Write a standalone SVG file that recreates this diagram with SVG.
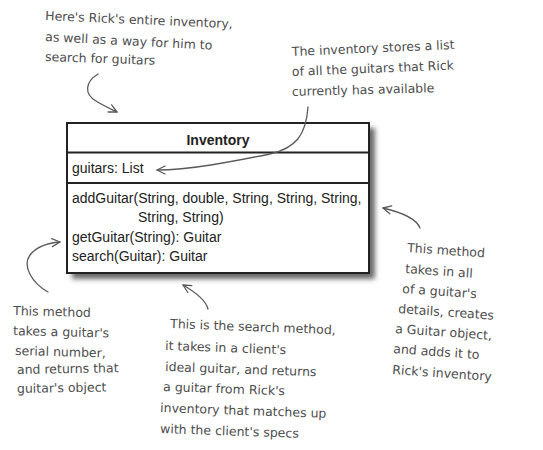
<svg xmlns="http://www.w3.org/2000/svg" width="543" height="450" viewBox="0 0 543 450">
<defs>
<style>
.note{font-family:"DejaVu Sans","Liberation Sans",sans-serif;font-size:12.5px;fill:#4d4d4d}
.uml{font-family:"Liberation Sans",Arial,sans-serif;font-size:14px;fill:#222}
.title{font-weight:bold}
.arrow{fill:none;stroke:#5a5a5a;stroke-width:1.3;stroke-linecap:round;marker-end:url(#head)}
.box{fill:#fff;stroke:#222;stroke-width:2}
.div{stroke:#222;stroke-width:2}
</style>
<marker id="head" viewBox="0 0 10 10" refX="9" refY="5" markerWidth="10" markerHeight="10" markerUnits="userSpaceOnUse" orient="auto">
<path d="M1,1 L9,5 L1,9" fill="none" stroke="#5a5a5a" stroke-width="1.3" stroke-linecap="round" stroke-linejoin="round"/>
</marker>
<filter id="shadow" x="-10%" y="-10%" width="130%" height="130%">
<feGaussianBlur stdDeviation="2.5"/>
</filter>
</defs>
<rect width="543" height="450" fill="#fff"/>

<g id="inventory">
<rect x="72" y="128" width="303" height="151" fill="#6a6a6a" filter="url(#shadow)"/>
<rect class="box" x="67" y="123" width="302" height="150"/>
<line class="div" x1="67" y1="152.5" x2="369" y2="152.5"/>
<line class="div" x1="67" y1="183" x2="369" y2="183"/>
<text class="uml title" x="218" y="145" text-anchor="middle">Inventory</text>
<text class="uml" x="72" y="173">guitars: List</text>
<text class="uml" x="72" y="203">addGuitar(String, double, String, String, String,</text>
<text class="uml" x="138" y="222">String, String)</text>
<text class="uml" x="72" y="242">getGuitar(String): Guitar</text>
<text class="uml" x="72" y="261">search(Guitar): Guitar</text>
</g>

<g id="note-overview">
<text class="note" x="45" y="20" transform="rotate(2.5 45 20)">Here's Rick's entire inventory,</text>
<text class="note" x="45" y="41" transform="rotate(3 45 41)">as well as a way for him to</text>
<text class="note" x="45" y="61" transform="rotate(2 45 61)">search for guitars</text>
</g>

<g id="note-list">
<text class="note" x="292" y="56" transform="rotate(-2.5 292 56)">The inventory stores a list</text>
<text class="note" x="292" y="76" transform="rotate(-2.3 292 76)">of all the guitars that Rick</text>
<text class="note" x="292" y="96" transform="rotate(-1.5 292 96)">currently has available</text>
</g>

<g id="note-getguitar">
<text class="note" x="13" y="315" transform="rotate(1.5 13 315)">This method</text>
<text class="note" x="13" y="335" transform="rotate(1.5 13 335)">takes a guitar's</text>
<text class="note" x="15" y="355" transform="rotate(1.5 15 355)">serial number,</text>
<text class="note" x="17" y="374" transform="rotate(-1 17 374)">and returns that</text>
<text class="note" x="17" y="393" transform="rotate(-1 17 393)">guitar's object</text>
</g>

<g id="note-search">
<text class="note" x="170" y="328" transform="rotate(2.2 170 328)">This is the search method,</text>
<text class="note" x="165" y="350" transform="rotate(2 165 350)">it takes in a client's</text>
<text class="note" x="165" y="371" transform="rotate(2 165 371)">ideal guitar, and returns</text>
<text class="note" x="163" y="391" transform="rotate(2 163 391)">a guitar from Rick's</text>
<text class="note" x="160" y="412" transform="rotate(2 160 412)">inventory that matches up</text>
<text class="note" x="160" y="433" transform="rotate(2 160 433)">with the client's specs</text>
</g>

<g id="note-addguitar">
<text class="note" x="407" y="252" transform="rotate(4 407 252)">This method</text>
<text class="note" x="405" y="273" transform="rotate(4 405 273)">takes in all</text>
<text class="note" x="402" y="293" transform="rotate(4 402 293)">of a guitar's</text>
<text class="note" x="398" y="313" transform="rotate(4 398 313)">details, creates</text>
<text class="note" x="395" y="333" transform="rotate(4 395 333)">a Guitar object,</text>
<text class="note" x="393" y="353" transform="rotate(4 393 353)">and adds it to</text>
<text class="note" x="392" y="374" transform="rotate(4 392 374)">Rick's inventory</text>
</g>

<g id="connectors">
<path class="arrow" d="M98,74 C85,82 84,94 96,101 C104,106 111,109 117,112"/>
<path class="arrow" d="M308,107 C306,135 296,148 270,154 C230,162 190,170 157,170"/>
<path class="arrow" d="M48,292 C32,283 22,266 30,255 C37,246 48,243 60,242"/>
<path class="arrow" d="M208,309 C206,300 195,292 183,285"/>
<path class="arrow" d="M420,228 C416,218 400,212 383,208"/>
</g>
</svg>
